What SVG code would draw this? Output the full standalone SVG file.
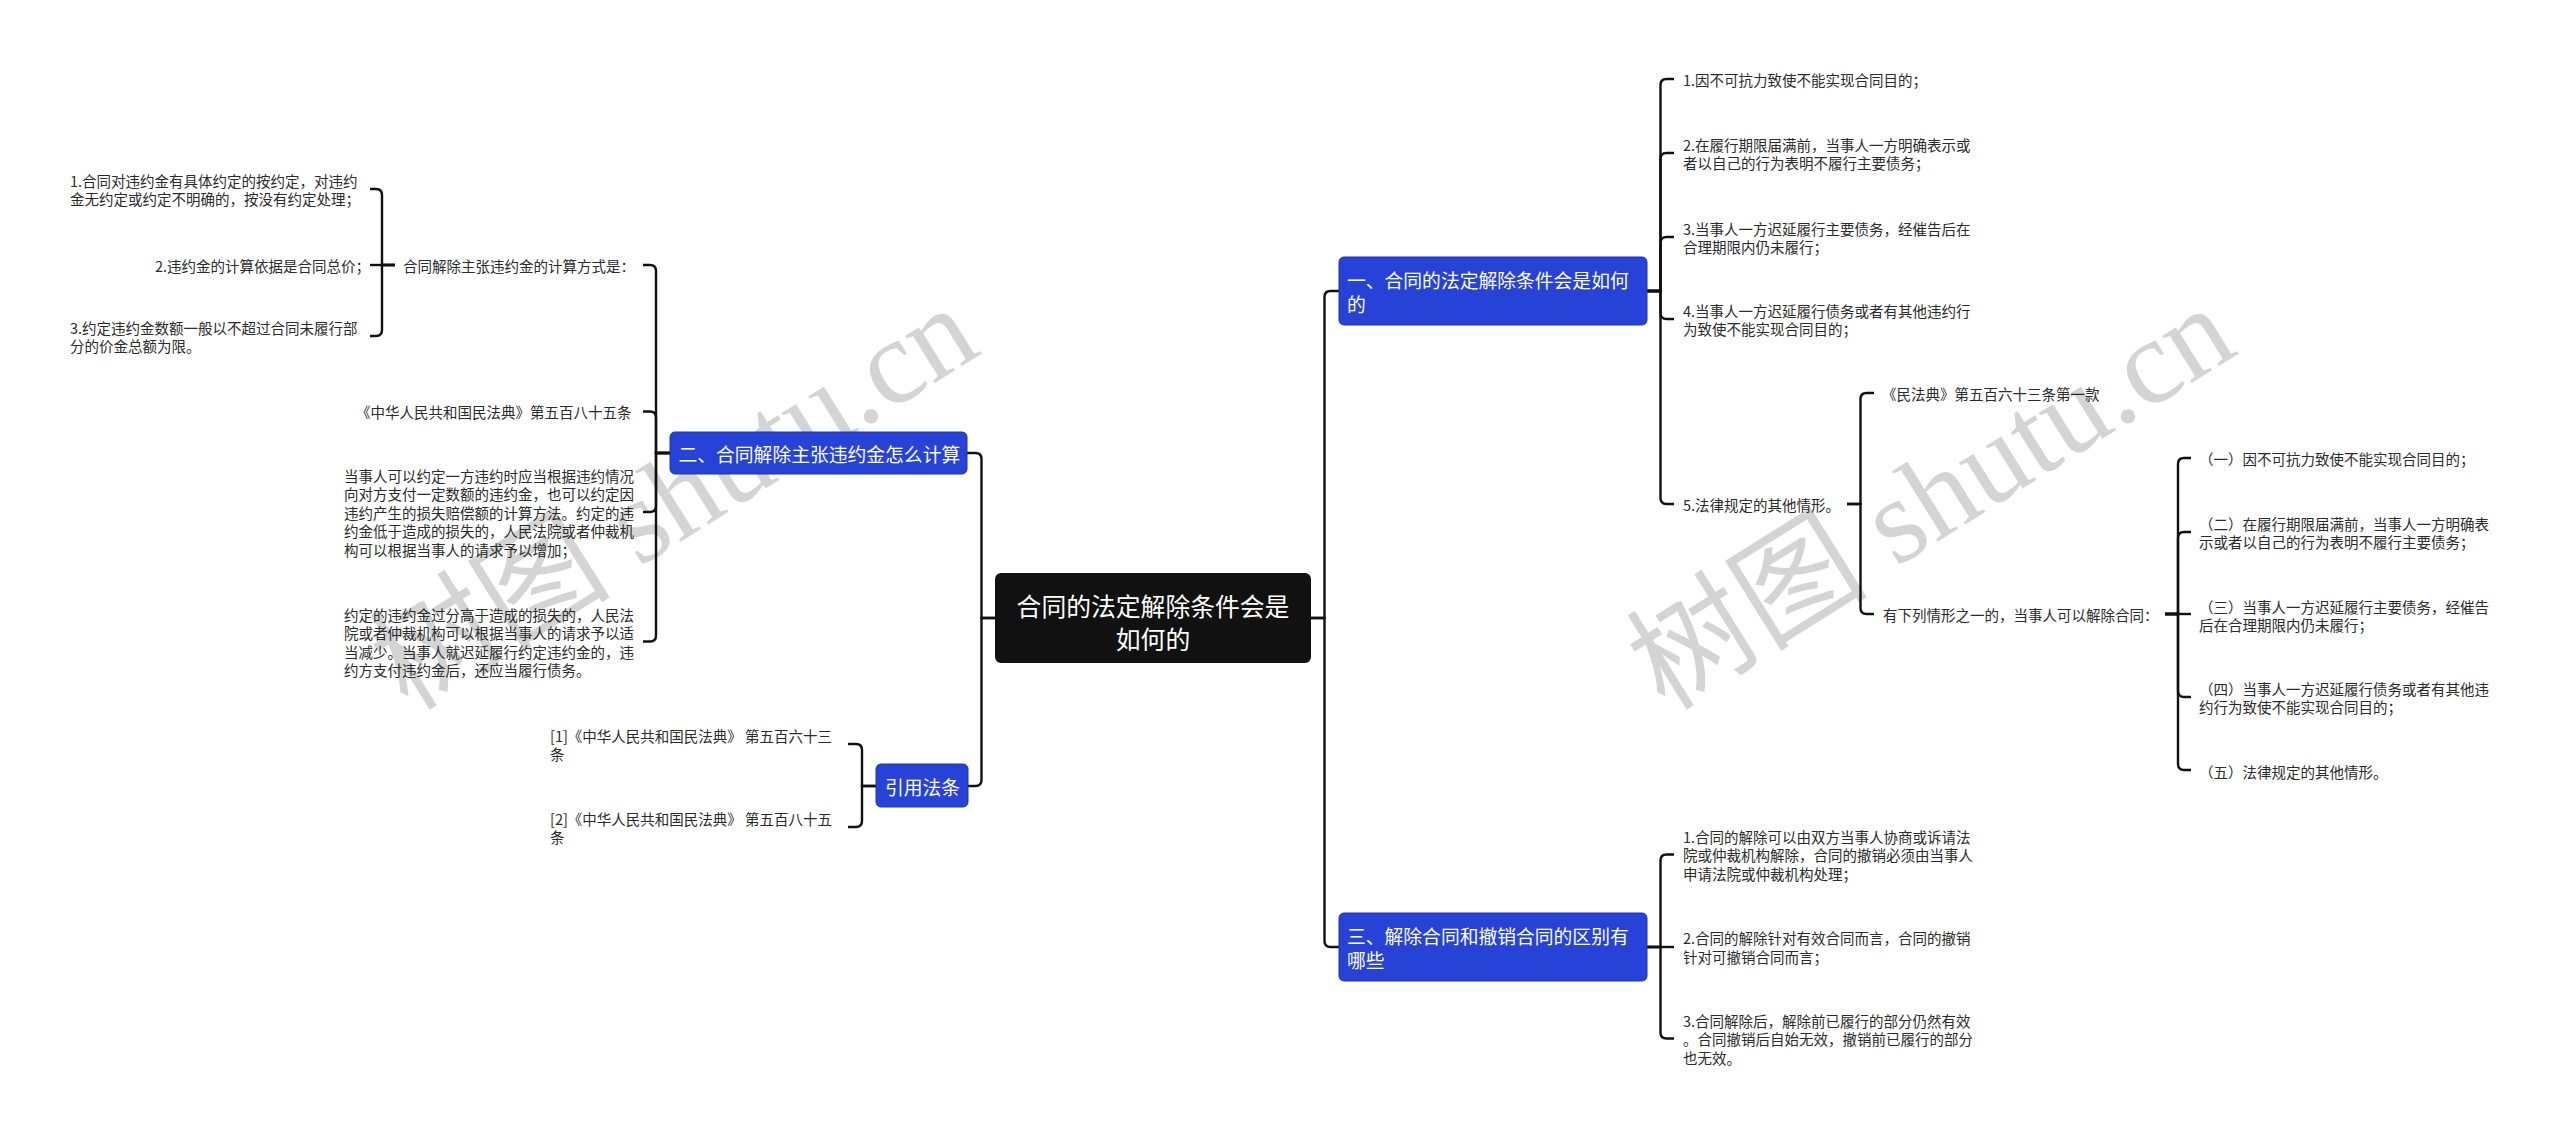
<svg xmlns="http://www.w3.org/2000/svg" width="2560" height="1137" viewBox="0 0 2560 1137">
<style>
.wm{fill:#d4d4d4}
.wmc{font-family:"Noto Sans CJK SC",sans-serif}
.wml{font-family:"Liberation Serif",serif}
.leaf{font-family:"Noto Sans CJK SC",sans-serif;font-size:14.5px;fill:#2b2b2b;dominant-baseline:central}
.blue rect{fill:#2742d6;stroke:#1e34b4;stroke-width:1}
.blue text{font-family:"Noto Sans CJK SC",sans-serif;font-size:18.8px;fill:#ffffff;dominant-baseline:central}
.root rect{fill:#111111}
.root text{font-family:"Noto Sans CJK SC",sans-serif;font-size:24.8px;fill:#ffffff;dominant-baseline:central;text-anchor:middle}
#connectors path{fill:none;stroke:#111111;stroke-width:2.4}
</style>
<rect width="2560" height="1137" fill="#ffffff"/>
<g id="watermarks" class="wm">
<text transform="translate(408 712) rotate(-32)" font-size="121"><tspan class="wmc">树图</tspan><tspan class="wml" dx="30">shutu.cn</tspan></text>
<text transform="translate(1665 712) rotate(-32)" font-size="121"><tspan class="wmc">树图</tspan><tspan class="wml" dx="30">shutu.cn</tspan></text>
</g>
<g id="connectors">
<path d="M1311 618 H1324.5 V297 Q1324.5 291 1330.5 291 H1339"/>
<path d="M1311 618 H1324.5 V941 Q1324.5 947 1330.5 947 H1339"/>
<path d="M995 618 H981.5 V459 Q981.5 453 975.5 453 H967"/>
<path d="M995 618 H981.5 V780 Q981.5 786 975.5 786 H968"/>
<path d="M1647 291 H1660.5 V85 Q1660.5 79 1666.5 79 H1674"/>
<path d="M1647 291 H1660.5 V159 Q1660.5 153 1666.5 153 H1674"/>
<path d="M1647 291 H1660.5 V243 Q1660.5 237 1666.5 237 H1674"/>
<path d="M1647 291 H1660.5 V313 Q1660.5 319 1666.5 319 H1674"/>
<path d="M1647 291 H1660.5 V498 Q1660.5 504 1666.5 504 H1674"/>
<path d="M1847 504 H1860.5 V399 Q1860.5 393 1866.5 393 H1874"/>
<path d="M1847 504 H1860.5 V608 Q1860.5 614 1866.5 614 H1874"/>
<path d="M2165 614 H2178 V464 Q2178 458 2184 458 H2191"/>
<path d="M2165 614 H2178 V538 Q2178 532 2184 532 H2191"/>
<path d="M2165 614 H2191"/>
<path d="M2165 614 H2178 V691 Q2178 697 2184 697 H2191"/>
<path d="M2165 614 H2178 V764 Q2178 770 2184 770 H2191"/>
<path d="M1647 947 H1660.5 V860.5 Q1660.5 854.5 1666.5 854.5 H1674"/>
<path d="M1647 947 H1674"/>
<path d="M1647 947 H1660.5 V1032.5 Q1660.5 1038.5 1666.5 1038.5 H1674"/>
<path d="M670 453 H656 V271 Q656 265 650 265 H643"/>
<path d="M670 453 H656 V417.5 Q656 411.5 650 411.5 H643"/>
<path d="M670 453 H656 V506 Q656 512 650 512 H643"/>
<path d="M670 453 H656 V635.5 Q656 641.5 650 641.5 H643"/>
<path d="M395 265 H382 V195 Q382 189 376 189 H370"/>
<path d="M395 265 H370"/>
<path d="M395 265 H382 V330 Q382 336 376 336 H370"/>
<path d="M876 786 H862 V750 Q862 744 856 744 H848"/>
<path d="M876 786 H862 V821 Q862 827 856 827 H848"/>
</g>
<g id="root" class="root">
<rect x="995" y="573" width="316" height="90" rx="6"/>
<text x="1153" y="605">合同的法定解除条件会是</text>
<text x="1153" y="638">如何的</text>
</g>
<g id="n1" class="blue">
<rect x="1339" y="257" width="308" height="68" rx="5"/>
<text x="1347" y="279">一、合同的法定解除条件会是如何</text>
<text x="1347" y="303.5">的</text>
</g>
<g id="n1-1"><text class="leaf" x="1683" y="79">1.因不可抗力致使不能实现合同目的；</text></g>
<g id="n1-2"><text class="leaf" x="1683" y="144">2.在履行期限届满前，当事人一方明确表示或</text><text class="leaf" x="1683" y="162.5">者以自己的行为表明不履行主要债务；</text></g>
<g id="n1-3"><text class="leaf" x="1683" y="228">3.当事人一方迟延履行主要债务，经催告后在</text><text class="leaf" x="1683" y="246.5">合理期限内仍未履行；</text></g>
<g id="n1-4"><text class="leaf" x="1683" y="310">4.当事人一方迟延履行债务或者有其他违约行</text><text class="leaf" x="1683" y="328.5">为致使不能实现合同目的；</text></g>
<g id="n1-5"><text class="leaf" x="1683" y="504">5.法律规定的其他情形。</text></g>
<g id="n1-5-1"><text class="leaf" x="1882" y="393">《民法典》第五百六十三条第一款</text></g>
<g id="n1-5-2"><text class="leaf" x="1883" y="614">有下列情形之一的，当事人可以解除合同：</text></g>
<g id="n1-5-2-1"><text class="leaf" x="2199" y="458">（一）因不可抗力致使不能实现合同目的；</text></g>
<g id="n1-5-2-2"><text class="leaf" x="2199" y="523">（二）在履行期限届满前，当事人一方明确表</text><text class="leaf" x="2199" y="541.5">示或者以自己的行为表明不履行主要债务；</text></g>
<g id="n1-5-2-3"><text class="leaf" x="2199" y="606">（三）当事人一方迟延履行主要债务，经催告</text><text class="leaf" x="2199" y="624.5">后在合理期限内仍未履行；</text></g>
<g id="n1-5-2-4"><text class="leaf" x="2199" y="688">（四）当事人一方迟延履行债务或者有其他违</text><text class="leaf" x="2199" y="706.5">约行为致使不能实现合同目的；</text></g>
<g id="n1-5-2-5"><text class="leaf" x="2199" y="771">（五）法律规定的其他情形。</text></g>
<g id="n3" class="blue">
<rect x="1339" y="913" width="308" height="68" rx="5"/>
<text x="1347" y="935">三、解除合同和撤销合同的区别有</text>
<text x="1347" y="959.5">哪些</text>
</g>
<g id="n3-1"><text class="leaf" x="1683" y="836">1.合同的解除可以由双方当事人协商或诉请法</text><text class="leaf" x="1683" y="854.5">院或仲裁机构解除，合同的撤销必须由当事人</text><text class="leaf" x="1683" y="873">申请法院或仲裁机构处理；</text></g>
<g id="n3-2"><text class="leaf" x="1683" y="937.5">2.合同的解除针对有效合同而言，合同的撤销</text><text class="leaf" x="1683" y="956">针对可撤销合同而言；</text></g>
<g id="n3-3"><text class="leaf" x="1683" y="1020">3.合同解除后，解除前已履行的部分仍然有效</text><text class="leaf" x="1683" y="1038.5">。合同撤销后自始无效，撤销前已履行的部分</text><text class="leaf" x="1683" y="1057">也无效。</text></g>
<g id="n2" class="blue">
<rect x="670" y="432" width="297" height="42" rx="5"/>
<text x="678.5" y="453">二、合同解除主张违约金怎么计算</text>
</g>
<g id="n2-1"><text class="leaf" x="403" y="265">合同解除主张违约金的计算方式是：</text></g>
<g id="n2-1-1"><text class="leaf" x="70" y="180">1.合同对违约金有具体约定的按约定，对违约</text><text class="leaf" x="70" y="198.5">金无约定或约定不明确的，按没有约定处理；</text></g>
<g id="n2-1-2"><text class="leaf" x="155" y="265">2.违约金的计算依据是合同总价；</text></g>
<g id="n2-1-3"><text class="leaf" x="70" y="327">3.约定违约金数额一般以不超过合同未履行部</text><text class="leaf" x="70" y="345.5">分的价金总额为限。</text></g>
<g id="n2-2"><text class="leaf" x="356" y="411.5">《中华人民共和国民法典》第五百八十五条</text></g>
<g id="n2-3"><text class="leaf" x="344" y="475">当事人可以约定一方违约时应当根据违约情况</text><text class="leaf" x="344" y="493.5">向对方支付一定数额的违约金，也可以约定因</text><text class="leaf" x="344" y="512">违约产生的损失赔偿额的计算方法。约定的违</text><text class="leaf" x="344" y="530.5">约金低于造成的损失的，人民法院或者仲裁机</text><text class="leaf" x="344" y="549">构可以根据当事人的请求予以增加；</text></g>
<g id="n2-4"><text class="leaf" x="344" y="614">约定的违约金过分高于造成的损失的，人民法</text><text class="leaf" x="344" y="632.5">院或者仲裁机构可以根据当事人的请求予以适</text><text class="leaf" x="344" y="651">当减少。当事人就迟延履行约定违约金的，违</text><text class="leaf" x="344" y="669.5">约方支付违约金后，还应当履行债务。</text></g>
<g id="n4" class="blue">
<rect x="876" y="764" width="92" height="43" rx="5"/>
<text x="885" y="786">引用法条</text>
</g>
<g id="n4-1"><text class="leaf" x="550" y="735">[1]《中华人民共和国民法典》 第五百六十三</text><text class="leaf" x="550" y="753.5">条</text></g>
<g id="n4-2"><text class="leaf" x="550" y="818">[2]《中华人民共和国民法典》 第五百八十五</text><text class="leaf" x="550" y="836.5">条</text></g>
</svg>
